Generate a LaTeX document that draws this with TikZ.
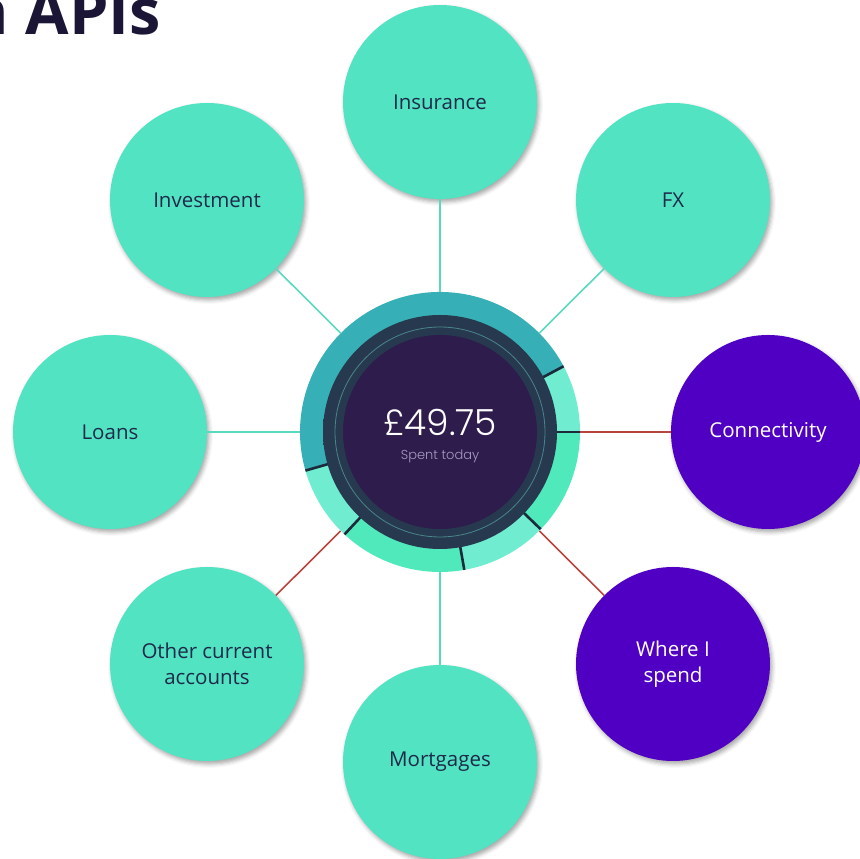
\documentclass[tikz,border=0pt]{standalone}
\usepackage{fontspec}
\setmainfont{Open Sans}
\newfontfamily\amountfont{Poppins Light}
\newfontfamily\titlefont{Open Sans Bold}
\usetikzlibrary{shadows.blur}

\definecolor{mint}{HTML}{52E3C2}
\definecolor{violetapi}{HTML}{5000C3}
\definecolor{navytext}{HTML}{1E2A4A}
\definecolor{titlenavy}{HTML}{1B1636}
\definecolor{linkmint}{HTML}{5AD9C1}
\definecolor{linkred}{HTML}{B8443E}
\definecolor{ringteal}{HTML}{36B0B6}
\definecolor{ringpale}{HTML}{70ECD0}
\definecolor{ringgreen}{HTML}{50E9BB}
\definecolor{ringdeep}{HTML}{27394F}
\definecolor{ringedge}{HTML}{2F6B78}
\definecolor{hubpurple}{HTML}{2E1C4D}
\definecolor{hubline}{HTML}{4A8588}
\definecolor{divider}{HTML}{1C2B3B}
\definecolor{spentgrey}{HTML}{A79CC0}

\pgfdeclareradialshading{hubring}{\pgfpoint{0bp}{0bp}}{color(0bp)=(ringdeep); color(38bp)=(ringdeep); color(50bp)=(ringedge)}

\tikzset{
  sat/.style={circle, fill=mint, minimum size=194pt, inner sep=0pt, align=center,
    text=navytext, font=\fontsize{20.5}{26}\selectfont,
    blur shadow={shadow xshift=2pt, shadow yshift=-3pt, shadow blur radius=4pt, shadow opacity=35}},
  satv/.style={sat, fill=violetapi, text=white},
  linkm/.style={draw=linkmint, line width=1.6pt},
  linkr/.style={draw=linkred, line width=1.6pt},
  cut/.style={draw=divider, line width=2.6pt}
}

\begin{document}
\begin{tikzpicture}[x=1pt,y=1pt]
\useasboundingbox (0,0) rectangle (860,859);

% title, cut at the page edge
\node[anchor=base east, inner sep=0pt, text=titlenavy, font=\titlefont\fontsize{63}{68}\selectfont] (title) at (161,824) {n APIs};

% hub
\node[circle, minimum size=280pt, inner sep=0pt] (hub) at (440,427) {};
\begin{scope}[shift={(hub.center)}]
 \foreach \a/\b/\c in {28/196/ringteal, 196/227/ringpale, 227/280/ringgreen, 280/316/ringpale, 316/360/ringgreen, 0/28/ringpale}
 \fill[\c] (\a:140) arc[start angle=\a, end angle=\b, radius=140] -- (\b:115) arc[start angle=\b, end angle=\a, radius=115] -- cycle;
 \foreach \a in {0,28,196,227,280,316}
 \draw[cut] (\a:110) -- (\a:140);
 \shade[shading=hubring] (0,0) circle (117);
 \draw[hubline, line width=0.8pt] (0,0) circle (105);
 \fill[hubpurple] (0,0) circle (97);
\end{scope}
\node[text=white, font=\amountfont\fontsize{36}{40}\selectfont] (amount) at (440,437) {£49.75};
\node[text=spentgrey, font=\amountfont\fontsize{13}{15}\selectfont] (spent) at (440,403) {Spent today};

% satellites
\node[sat] (insurance) at (440,757) {Insurance};
\node[sat] (fx) at (673,659) {FX};
\node[satv] (connect) at (768,427) {Connectivity};
\node[satv] (spend) at (673,195) {Where I\\spend};
\node[sat] (mortgage) at (440,97) {Mortgages};
\node[sat] (othercur) at (207,195) {Other current\\accounts};
\node[sat] (loans) at (110,427) {Loans};
\node[sat] (invest) at (207,659) {Investment};

% links
\draw[linkm] (hub) -- (insurance);
\draw[linkm] (hub) -- (fx);
\draw[linkr] (hub) -- (connect);
\draw[linkr] (hub) -- (spend);
\draw[linkm] (hub) -- (mortgage);
\draw[linkr] (hub) -- (othercur);
\draw[linkm] (hub) -- (loans);
\draw[linkm] (hub) -- (invest);
\end{tikzpicture}
\end{document}
